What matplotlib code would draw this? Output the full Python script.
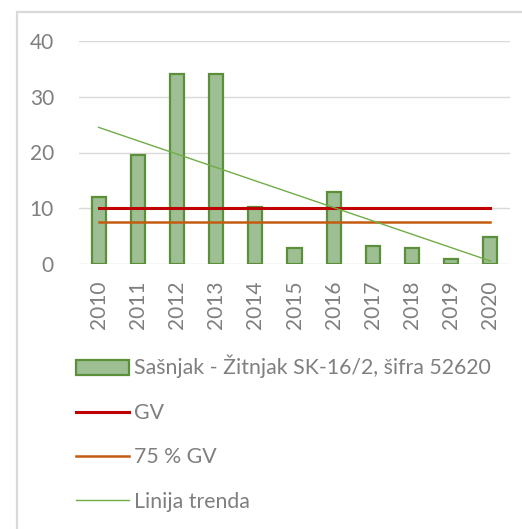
import matplotlib
matplotlib.use("Agg")
import matplotlib.pyplot as plt
import numpy as np
from matplotlib.patches import Rectangle
from matplotlib.lines import Line2D

years = ["2010", "2011", "2012", "2013", "2014", "2015", "2016", "2017", "2018", "2019", "2020"]
values = [12.1, 19.6, 34.0, 34.0, 10.3, 3.0, 13.0, 3.3, 3.0, 0.9, 4.8]
gv_value = 10.0
gv75_value = 7.5
series_label = "Sašnjak - Žitnjak SK-16/2, šifra 52620"
gv_label = "GV"
gv75_label = "75 % GV"
trend_label = "Linija trenda"
yticks = [0, 10, 20, 30, 40]

plt.rcParams['font.family'] = ['Lato', 'DejaVu Sans']
txt_color = "#7f7f7f"
W, H = 522, 529
fig = plt.figure(figsize=(W / 100, H / 100), dpi=100)

# chart frame
fig.patches.append(Rectangle((17 / W, -0.1), 1.2, 1 - 12 / H + 0.1, transform=fig.transFigure,
                             fill=False, edgecolor="#d9d9d9", linewidth=1.6))

ax = fig.add_axes([79 / W, 1 - 264.3 / H, (510 - 79) / W, (264.3 - 40.7) / H])
x = np.arange(len(years))
bars = ax.bar(x, values, width=0.36, color="#9dbf93", edgecolor="#5b8f3a", linewidth=1.6, zorder=3)
ax.plot([x[0], x[-1]], [gv_value, gv_value], color="#c00000", linewidth=2.2, zorder=4)
ax.plot([x[0], x[-1]], [gv75_value, gv75_value], color="#c55a11", linewidth=1.8, zorder=4)
coef = np.polyfit(x, values, 1)
ax.plot(x[[0, -1]], np.polyval(coef, x[[0, -1]]), color="#70ad47", linewidth=1.0, zorder=5)

ax.set_xlim(-0.5, len(years) - 0.5)
ax.set_ylim(0, 40)
ax.set_yticks(yticks)
ax.set_yticklabels([str(v) for v in yticks])
ax.set_xticks(x)
ax.set_xticklabels(years, rotation=90)
ax.grid(axis="y", color="#d9d9d9", linewidth=1.0, zorder=0)
for s in ax.spines.values():
    s.set_visible(False)
ax.tick_params(axis="both", length=0, labelsize=15, labelcolor=txt_color)
ax.tick_params(axis="y", pad=18)
ax.tick_params(axis="x", pad=12)

handles = [Rectangle((0, 0), 1, 1, facecolor="#9dbf93", edgecolor="#5b8f3a", linewidth=1.6),
           Line2D([], [], color="#c00000", linewidth=2.2),
           Line2D([], [], color="#c55a11", linewidth=1.8),
           Line2D([], [], color="#70ad47", linewidth=1.0)]
leg = fig.legend(handles, [series_label, gv_label, gv75_label, trend_label],
                 loc="upper left", bbox_to_anchor=(76 / W, 1 - 355 / H), frameon=False,
                 fontsize=15.3, labelcolor=txt_color, handlelength=2.5, handleheight=0.7,
                 handletextpad=0.25, labelspacing=1.15, borderaxespad=0, borderpad=0)

fig.savefig("out.png", dpi=100)
